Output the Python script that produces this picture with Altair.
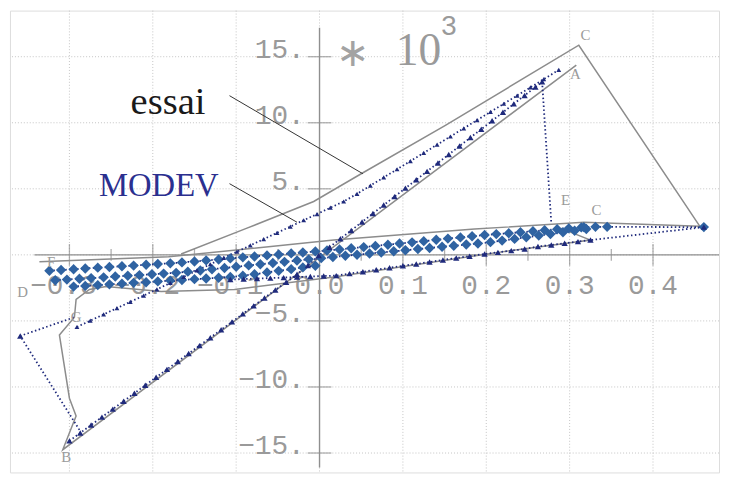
import altair as alt
import pandas as pd

# ---------------- scales / grid ----------------
x_domain = [-0.3713, 0.4792]
y_domain = [-16.47, 18.49]          # stress in units of 10^3

grid_x = [-0.3, -0.2, -0.1, 0.0, 0.1, 0.2, 0.3, 0.4]
grid_y = [-15, -10, -5, 0, 5, 10, 15]

major_x_ticks = [-0.3, -0.2, -0.1, 0.1, 0.2, 0.3, 0.4]
minor_x_ticks = [-0.25, -0.15, -0.05, 0.05, 0.15, 0.25, 0.35]
y_ticks = [-15, -10, -5, 5, 10, 15]
y_tick_labels = ["−15.", "−10.", "−5.", "5.", "10.", "15."]
x_pos_label_at = [0.0, 0.1, 0.2, 0.3, 0.4]
x_pos_labels = ["0.0", "0.1", "0.2", "0.3", "0.4"]
x_neg_label_at = [-0.3, -0.2, -0.1]
x_neg_labels = ["−0.3", "−0.2", "−0.1"]

# centre axes extent
vaxis_y = [-16.1, 17.2]
haxis_x = [-0.342, 0.4792]

# ---------------- essai (test, grey solid) ----------------
essai_a_x = [-0.166, -0.087, -0.007, 0.050, 0.151, 0.311, 0.456]
essai_a_y = [0.07, 2.02, 4.04, 6.14, 9.81, 15.87, 2.17]
essai_b_x = [0.456, 0.317, 0.186, 0.017, -0.181, -0.336]
essai_b_y = [2.17, 2.47, 1.95, 1.12, -0.15, -0.52]
essai_c_x = [0.289, 0.325, 0.210, 0.091, 0.020, -0.102, -0.190, -0.256, -0.276,
             -0.292, -0.294, -0.312, -0.300, -0.292, -0.308, 0.308]
essai_c_y = [2.02, 1.12, 0.15, -0.97, -1.65, -2.62, -2.77, -2.40, -2.62,
             -3.37, -4.72, -6.06, -10.85, -12.20, -14.75, 14.37]

# ---------------- MODEV (model, blue dotted + markers) ----------------
dense_x = [-0.300, -0.287, -0.274, -0.261, -0.248, -0.235, -0.222, -0.209, -0.196, -0.183,
           -0.170, -0.157, -0.144, -0.131, -0.118, -0.105, -0.092, -0.079, -0.066, -0.053,
           -0.040, -0.027, -0.014, -0.001, 0.012, 0.025, 0.038, 0.051, 0.064, 0.077,
           0.090, 0.103, 0.116, 0.129, 0.142, 0.155, 0.168, 0.181, 0.194, 0.207,
           0.220, 0.233, 0.246, 0.259, 0.267]
dense_y = [-14.08, -13.48, -12.88, -12.28, -11.68, -11.08, -10.47, -9.87, -9.27, -8.67,
           -8.07, -7.47, -6.87, -6.27, -5.67, -5.07, -4.47, -3.86, -3.26, -2.66,
           -2.07, -1.47, -0.80, -0.05, 0.58, 1.22, 1.85, 2.49, 3.13, 3.77,
           4.41, 5.05, 5.68, 6.32, 6.96, 7.60, 8.24, 8.88, 9.51, 10.15,
           10.79, 11.43, 12.07, 12.70, 13.10]

sparse_x = [-0.291, -0.275, -0.259, -0.243, -0.227, -0.211, -0.195, -0.179, -0.163, -0.147,
            -0.131, -0.115, -0.099, -0.083, -0.067, -0.051, -0.035, -0.019, -0.003, 0.013,
            0.029, 0.045, 0.061, 0.077, 0.093, 0.109, 0.125, 0.141, 0.157, 0.173,
            0.189, 0.205, 0.221, 0.237, 0.253, 0.269, 0.287]
sparse_y = [-5.46, -4.98, -4.51, -4.03, -3.56, -3.08, -2.61, -2.13, -1.66, -1.18,
            -0.71, -0.23, 0.24, 0.72, 1.19, 1.67, 2.14, 2.62, 3.09, 3.57,
            4.04, 4.62, 5.24, 5.86, 6.48, 7.10, 7.72, 8.34, 8.96, 9.58,
            10.20, 10.82, 11.44, 12.06, 12.68, 13.30, 14.00]

lower_x = [-0.107, -0.091, -0.075, -0.059, -0.043, -0.027, -0.011, 0.005, 0.020, 0.036,
           0.052, 0.068, 0.084, 0.100, 0.116, 0.132, 0.148, 0.164, 0.180, 0.198,
           0.214, 0.230, 0.246, 0.262, 0.278, 0.294, 0.310, 0.325, 0.461]
lower_y = [-1.87, -1.83, -1.79, -1.76, -1.72, -1.68, -1.64, -1.60, -1.57, -1.42,
           -1.28, -1.13, -0.98, -0.83, -0.69, -0.54, -0.39, -0.24, -0.10, 0.07,
           0.19, 0.32, 0.44, 0.63, 0.75, 0.88, 1.00, 1.12, 2.10]

band_a_x = [-0.324, -0.310, -0.295, -0.281, -0.266, -0.252, -0.237, -0.223, -0.208, -0.194,
            -0.179, -0.165, -0.150, -0.136, -0.121, -0.107, -0.092, -0.078, -0.063, -0.049,
            -0.034, -0.020, -0.005, 0.009, 0.024, 0.038, 0.053, 0.067, 0.082, 0.096,
            0.111, 0.125, 0.140, 0.154, 0.169, 0.183, 0.198, 0.212, 0.227, 0.241,
            0.256, 0.270, 0.285, 0.299, 0.314]
band_a_y = [-1.20, -1.15, -1.09, -1.03, -0.97, -0.92, -0.86, -0.81, -0.75, -0.69,
            -0.64, -0.57, -0.50, -0.42, -0.35, -0.27, -0.19, -0.12, -0.04, 0.03,
            0.11, 0.18, 0.26, 0.33, 0.41, 0.50, 0.59, 0.68, 0.77, 0.86,
            0.95, 1.04, 1.14, 1.23, 1.32, 1.41, 1.50, 1.57, 1.64, 1.71,
            1.79, 1.86, 1.94, 2.01, 2.08]

band_b_x = [-0.317, -0.303, -0.288, -0.274, -0.259, -0.245, -0.230, -0.216, -0.201, -0.187,
            -0.172, -0.158, -0.143, -0.129, -0.114, -0.100, -0.085, -0.071, -0.056, -0.042,
            -0.027, -0.013, 0.002, 0.016, 0.031, 0.045, 0.060, 0.074, 0.089, 0.103,
            0.118, 0.132, 0.147, 0.161, 0.176, 0.190, 0.205, 0.219, 0.234, 0.248,
            0.263, 0.277, 0.292, 0.306, 0.320]
band_b_y = [-1.92, -1.87, -1.81, -1.76, -1.70, -1.64, -1.58, -1.53, -1.47, -1.42,
            -1.36, -1.27, -1.18, -1.09, -0.99, -0.90, -0.80, -0.71, -0.62, -0.53,
            -0.43, -0.34, -0.25, -0.16, -0.07, 0.01, 0.10, 0.18, 0.27, 0.35,
            0.44, 0.52, 0.61, 0.69, 0.78, 0.86, 0.96, 1.08, 1.21, 1.33,
            1.46, 1.58, 1.71, 1.83, 1.96]

band_c_x = [-0.295, -0.281, -0.266, -0.252, -0.237, -0.223, -0.208, -0.194, -0.179, -0.165,
            -0.150, -0.136, -0.121, -0.107, -0.092, -0.078, -0.063, -0.049, -0.034, -0.020,
            -0.005]
band_c_y = [-2.40, -2.35, -2.29, -2.23, -2.18, -2.12, -2.07, -2.01, -1.95, -1.90,
            -1.84, -1.79, -1.73, -1.68, -1.58, -1.46, -1.33, -1.21, -1.08, -0.95,
            -0.82]

top_right_x = [0.317, 0.331, 0.345, 0.461]
top_right_y = [2.10, 2.12, 2.12, 2.10]
drop_x = [0.267, 0.278]
drop_y = [13.10, 2.40]
left_x = [-0.288, -0.359, -0.294]
left_y = [-13.25, -6.14, -4.72]

# ---------------- annotations ----------------
pt_labels = ["C", "A", "E", "C", "B", "D", "F", "G"]
pt_label_x = [0.319, 0.307, 0.295, 0.332, -0.304, -0.356, -0.322, -0.292]
pt_label_y = [16.62, 13.70, 4.12, 3.37, -15.34, -2.84, -0.55, -4.72]

leader_x = [-0.108, -0.108]
leader_y = [12.05, 5.39]
leader_x2 = [0.052, -0.027]
leader_y2 = [6.14, 2.47]

# ---------------- build ----------------
def df(name, xs, ys):
    return pd.DataFrame({"x": xs, "y": ys, "s": name, "o": list(range(len(xs)))})

X = alt.X("x:Q", scale=alt.Scale(domain=x_domain, nice=False, zero=False), axis=None)
Y = alt.Y("y:Q", scale=alt.Scale(domain=y_domain, nice=False, zero=False), axis=None)

GRAY = "#8c8c8c"
NAVY = "#1f2a7c"
BLUE = "#2f63a2"
LBL = "#9a9a9a"
AX = "#8f8f8f"

grid_v = alt.Chart(pd.DataFrame({"x": grid_x})).mark_rule(
    color="#c4c4c4", strokeDash=[1, 2], strokeWidth=1).encode(x=X)
grid_h = alt.Chart(pd.DataFrame({"y": grid_y})).mark_rule(
    color="#c4c4c4", strokeDash=[1, 2], strokeWidth=1).encode(y=Y)

vaxis = alt.Chart(pd.DataFrame({"x": [0.0, 0.0], "y": vaxis_y, "s": "v", "o": [0, 1]})).mark_line(
    color=AX, strokeWidth=1.4).encode(x=X, y=Y, order="o:Q")
haxis = alt.Chart(pd.DataFrame({"x": haxis_x, "y": [0.0, 0.0], "s": "h", "o": [0, 1]})).mark_line(
    color=AX, strokeWidth=1.4).encode(x=X, y=Y, order="o:Q")

yt = alt.Chart(pd.DataFrame({"y": y_ticks, "x": [0.0] * len(y_ticks)})).mark_tick(
    orient="horizontal", size=24, thickness=1.3, color=AX).encode(x=X, y=Y)
xt_major = alt.Chart(pd.DataFrame({"x": major_x_ticks, "y": [0.0] * len(major_x_ticks)})).mark_tick(
    orient="vertical", size=22, thickness=1.3, color=AX).encode(x=X, y=Y)
xt_minor = alt.Chart(pd.DataFrame({"x": minor_x_ticks, "y": [0.0] * len(minor_x_ticks)})).mark_tick(
    orient="vertical", size=12, thickness=1.3, color=AX).encode(x=X, y=Y)

ylab = alt.Chart(pd.DataFrame({"y": y_ticks, "t": y_tick_labels, "x": [0.0] * len(y_ticks)})).mark_text(
    font="Liberation Mono", fontSize=28, color=LBL, align="right", baseline="alphabetic", dx=-15, dy=1
).encode(x=X, y=Y, text="t:N")
xlab_pos = alt.Chart(pd.DataFrame({"x": x_pos_label_at, "t": x_pos_labels, "y": [0.0] * len(x_pos_labels)})).mark_text(
    font="Liberation Mono", fontSize=28, color=LBL, align="center", baseline="alphabetic", dy=40
).encode(x=X, y=Y, text="t:N")
xlab_neg = alt.Chart(pd.DataFrame({"x": x_neg_label_at, "t": x_neg_labels, "y": [0.0] * len(x_neg_labels)})).mark_text(
    font="Liberation Mono", fontSize=28, color=LBL, align="center", baseline="alphabetic", dy=40, dx=-6
).encode(x=X, y=Y, text="t:N")

mult_star = alt.Chart(pd.DataFrame({"x": [0.040], "y": [15.2], "t": ["∗"]})).mark_text(
    font="Noto Sans", fontSize=40, color="#a3a3a3", align="center", baseline="middle"
).encode(x=X, y=Y, text="t:N")
mult_ten = alt.Chart(pd.DataFrame({"x": [0.0913], "y": [14.37], "t": ["10"]})).mark_text(
    font="Liberation Sans Narrow", fontSize=46, color=LBL, align="left", baseline="alphabetic"
).encode(x=X, y=Y, text="t:N")
mult_exp = alt.Chart(pd.DataFrame({"x": [0.146], "y": [16.62], "t": ["3"]})).mark_text(
    font="Liberation Sans", fontSize=28, color=LBL, align="left", baseline="alphabetic"
).encode(x=X, y=Y, text="t:N")

essai = pd.concat([df("a", essai_a_x, essai_a_y), df("b", essai_b_x, essai_b_y),
                   df("c", essai_c_x, essai_c_y)])
essai_lines = alt.Chart(essai).mark_line(color=GRAY, strokeWidth=1.5).encode(
    x=X, y=Y, detail="s:N", order="o:Q")

modev = pd.concat([df("dense", dense_x, dense_y), df("sparse", sparse_x, sparse_y),
                   df("lower", lower_x, lower_y), df("ba", band_a_x, band_a_y),
                   df("bb", band_b_x, band_b_y), df("bc", band_c_x, band_c_y),
                   df("tr", top_right_x, top_right_y),
                   df("drop", drop_x, drop_y), df("left", left_x, left_y)])
modev_lines = alt.Chart(modev).mark_line(color=NAVY, strokeWidth=1.8, strokeDash=[1.5, 2.5]).encode(
    x=X, y=Y, detail="s:N", order="o:Q")

diamonds = pd.concat([df("ba", band_a_x, band_a_y), df("bb", band_b_x, band_b_y),
                      df("bc", band_c_x, band_c_y), df("tr", top_right_x, top_right_y)])
diamond_pts = alt.Chart(diamonds).mark_point(shape="diamond", filled=True, size=110,
                                             color=BLUE, opacity=1).encode(x=X, y=Y)
tri = pd.concat([df("dense", dense_x, dense_y), df("lower", lower_x, lower_y),
                 df("left", left_x[1:2], left_y[1:2])])
tri_pts = alt.Chart(tri).mark_point(shape="triangle-up", filled=True, size=40,
                                    color=NAVY, opacity=1).encode(x=X, y=Y)
tri_small = alt.Chart(df("sparse", sparse_x, sparse_y)).mark_point(
    shape="triangle-up", filled=True, size=24, color=NAVY, opacity=1).encode(x=X, y=Y)

letters = alt.Chart(pd.DataFrame({"x": pt_label_x, "y": pt_label_y, "t": pt_labels})).mark_text(
    font="Liberation Serif", fontSize=15, color=LBL, align="center", baseline="middle"
).encode(x=X, y=Y, text="t:N")

leaders = alt.Chart(pd.DataFrame({"x": leader_x, "y": leader_y, "x2": leader_x2, "y2": leader_y2})).mark_rule(
    color="#333333", strokeWidth=1).encode(x=X, y=Y, x2="x2:Q", y2="y2:Q")

essai_txt = alt.Chart(pd.DataFrame({"x": [-0.2266], "y": [10.70], "t": ["essai"]})).mark_text(
    font="Liberation Serif", fontSize=39, color="#1a1a1a", align="left", baseline="alphabetic"
).encode(x=X, y=Y, text="t:N")
modev_txt = alt.Chart(pd.DataFrame({"x": [-0.2645], "y": [4.49], "t": ["MODEV"]})).mark_text(
    font="Liberation Serif", fontSize=33, color="#2b2f8f", align="left", baseline="alphabetic"
).encode(x=X, y=Y, text="t:N")

chart = alt.layer(
    grid_v, grid_h, vaxis, haxis, yt, xt_major, xt_minor,
    ylab, xlab_pos, xlab_neg, mult_star, mult_ten, mult_exp,
    essai_lines, modev_lines, diamond_pts, tri_pts, tri_small,
    letters, leaders, essai_txt, modev_txt
).properties(
    width=717, height=467,
    autosize=alt.AutoSizeParams(type="none"),
    padding={"left": 2, "top": 0, "right": 3, "bottom": 4}
).configure_view(stroke="#6f6f6f", strokeWidth=1.5).configure(background="white")

chart.save("out.html", embed_options={"renderer": "svg", "actions": False})
